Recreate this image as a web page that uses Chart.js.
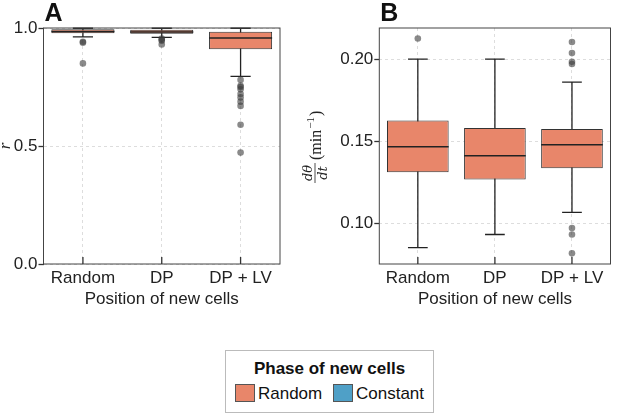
<!DOCTYPE html>
<html>
<head>
<meta charset="utf-8">
<script src="https://cdn.jsdelivr.net/npm/chart.js@4.4.0/dist/chart.umd.min.js"></script>
<style>
  body { margin: 0; background: #fff; font-family: "Liberation Sans", Arial, sans-serif; }
  #wrap { position: relative; width: 617px; height: 413px; }
  #chartA { position: absolute; left: 0; top: 0; }
  #chartB { position: absolute; left: 300px; top: 0; }
  #legend { position: absolute; left: 225px; top: 350px; width: 207px; height: 61px;
            border: 1px solid #bbb; text-align: center; color: #111; }
  #legend .title { font-weight: bold; font-size: 17px; margin-top: 8px; }
  #legend .items { margin-top: 5px; font-size: 17px; }
  #legend .sw { display: inline-block; width: 18px; height: 16px; border: 1px solid #555;
                vertical-align: -3px; margin-right: 3px; }
  #legend .item { margin: 0 3px; }
</style>
</head>
<body>
<div id="wrap">
  <canvas id="chartA" width="300" height="310"></canvas>
  <canvas id="chartB" width="317" height="310"></canvas>
  <div id="legend">
    <div class="title">Phase of new cells</div>
    <div class="items">
      <span class="item"><span class="sw" style="background:#E8866A"></span>Random</span>
      <span class="item"><span class="sw" style="background:#4FA0C7"></span>Constant</span>
    </div>
  </div>
</div>
<script>
var categories = ["Random", "DP", "DP + LV"];

// panel A: r
var rLow = [0.962, 0.960, 0.795];
var rQ1 = [0.978, 0.976, 0.910];
var rMed = [0.985, 0.983, 0.958];
var rQ3 = [0.995, 0.993, 0.984];
var rHigh = [0.999, 0.999, 0.999];
var rOut = [
    [0.942, 0.938, 0.85],
    [0.955, 0.950, 0.946, 0.93],
    [0.78, 0.755, 0.75, 0.74, 0.72, 0.706, 0.688, 0.67, 0.59, 0.472]
];
var rTicks = [0, 0.5, 1.0];

// panel B: dtheta/dt
var bLow = [0.085, 0.093, 0.1065];
var bQ1 = [0.131, 0.1265, 0.1335];
var bMed = [0.1465, 0.141, 0.1477];
var bQ3 = [0.1626, 0.158, 0.1573];
var bHigh = [0.200, 0.200, 0.186];
var bOut = [
    [0.2126],
    [],
    [0.2105, 0.2037, 0.1984, 0.197, 0.097, 0.093, 0.0815]
];
var bTicks = [0.10, 0.15, 0.20];

var boxColor = "#E8866A";
var lineColor = "#222";
var sans = "'Liberation Sans', Arial, sans-serif";

function panelPlugin(letter, low, med, high, drawYLabel) {
    return {
        id: "panel" + letter,
        beforeDatasetsDraw: function (chart) {
            // whiskers
            var ctx = chart.ctx, y = chart.scales.y;
            var bars = chart.getDatasetMeta(1).data;
            ctx.save();
            ctx.strokeStyle = lineColor;
            ctx.lineWidth = 1.3;
            bars.forEach(function (bar, i) {
                var half = bar.width * 0.16;
                var yl = y.getPixelForValue(low[i]), yh = y.getPixelForValue(high[i]);
                ctx.beginPath();
                ctx.moveTo(bar.x, yh); ctx.lineTo(bar.x, yl);
                ctx.moveTo(bar.x - half, yh); ctx.lineTo(bar.x + half, yh);
                ctx.moveTo(bar.x - half, yl); ctx.lineTo(bar.x + half, yl);
                ctx.stroke();
            });
            ctx.restore();
        },
        afterDatasetDraw: function (chart, args) {
            if (args.meta.type !== "bar") return;
            var ctx = chart.ctx, y = chart.scales.y;
            ctx.save();
            ctx.strokeStyle = lineColor;
            ctx.lineWidth = 1.5;
            args.meta.data.forEach(function (bar, i) {
                var ym = y.getPixelForValue(med[i]);
                ctx.beginPath();
                ctx.moveTo(bar.x - bar.width / 2, ym);
                ctx.lineTo(bar.x + bar.width / 2, ym);
                ctx.stroke();
            });
            ctx.restore();
        },
        afterDraw: function (chart) {
            var ctx = chart.ctx, a = chart.chartArea, x = chart.scales.x;
            ctx.save();
            // frame
            ctx.strokeStyle = "#444";
            ctx.lineWidth = 1;
            ctx.strokeRect(a.left, a.top, a.right - a.left, a.bottom - a.top);
            // inward x ticks
            ctx.strokeStyle = "#333";
            ctx.lineWidth = 1.3;
            for (var i = 0; i < categories.length; i++) {
                var px = x.getPixelForValue(i);
                ctx.beginPath();
                ctx.moveTo(px, a.bottom);
                ctx.lineTo(px, a.bottom - 7);
                ctx.stroke();
            }
            // panel letter
            ctx.fillStyle = "#111";
            ctx.font = "bold 25px " + sans;
            ctx.textAlign = "left";
            ctx.textBaseline = "alphabetic";
            ctx.fillText(letter, a.left + 1, 21);
            drawYLabel(ctx, a);
            ctx.restore();
        }
    };
}

function labelR(ctx, a) {
    ctx.translate(6, (a.top + a.bottom) / 2);
    ctx.rotate(-Math.PI / 2);
    ctx.font = "italic 17px 'Liberation Serif', serif";
    ctx.textAlign = "center";
    ctx.textBaseline = "middle";
    ctx.fillStyle = "#222";
    ctx.fillText("r", 0, 0);
}

function labelRate(ctx, a) {
    ctx.translate(15, (a.top + a.bottom) / 2 - 2);
    ctx.rotate(-Math.PI / 2);
    ctx.fillStyle = "#222";
    ctx.strokeStyle = "#222";
    ctx.textAlign = "center";
    ctx.font = "italic 13px 'DejaVu Serif', serif";
    var fx = -29;
    ctx.textBaseline = "alphabetic";
    ctx.fillText("d\u03b8", fx, -3);
    ctx.textBaseline = "top";
    ctx.fillText("dt", fx, 2);
    ctx.lineWidth = 0.8;
    ctx.beginPath();
    ctx.moveTo(fx - 10, 0); ctx.lineTo(fx + 10, 0);
    ctx.stroke();
    ctx.textAlign = "left";
    ctx.textBaseline = "middle";
    ctx.font = "16px 'Liberation Serif', serif";
    ctx.fillText("(min", -16, 2);
    var w = ctx.measureText("(min").width;
    ctx.font = "11px 'Liberation Serif', serif";
    ctx.fillText("\u22121", -16 + w + 1, -4);
    var w2 = ctx.measureText("\u22121").width;
    ctx.font = "16px 'Liberation Serif', serif";
    ctx.fillText(")", -16 + w + w2 + 2, 2);
}

function buildOutliers(out) {
    var pts = [];
    out.forEach(function (arr, i) {
        arr.forEach(function (v) { pts.push({ x: categories[i], y: v }); });
    });
    return pts;
}

function makeChart(id, q1, q3, out, ticks, yMin, yMax, digits, yWidth, padRight, plugin) {
    var ctx = document.getElementById(id).getContext("2d");
    return new Chart(ctx, {
        type: "bar",
        data: {
            labels: categories,
            datasets: [{
                type: "line",
                data: buildOutliers(out),
                showLine: false,
                pointRadius: 3.3,
                pointHoverRadius: 3.3,
                pointBackgroundColor: "rgba(60,60,60,0.6)",
                pointBorderWidth: 0,
                order: 1
            }, {
                type: "bar",
                data: q1.map(function (v, i) { return [v, q3[i]]; }),
                backgroundColor: boxColor,
                borderColor: "#333",
                borderWidth: 1,
                borderSkipped: false,
                barPercentage: 0.8,
                categoryPercentage: 1.0,
                order: 2
            }]
        },
        options: {
            responsive: false,
            animation: false,
            layout: { padding: { left: 0, right: padRight, top: 28, bottom: 0 } },
            scales: {
                x: {
                    offset: true,
                    grid: { offset: false, color: "#ddd", drawTicks: false },
                    border: { display: false, dash: [3, 3] },
                    ticks: { color: "#222", padding: 4, font: { size: 17, family: sans } },
                    title: {
                        display: true, text: "Position of new cells", color: "#222",
                        padding: 0, font: { size: 17, family: sans }
                    },
                    afterFit: function (s) { s.height = 46; }
                },
                y: {
                    min: yMin,
                    max: yMax,
                    grid: { color: "#ddd", tickColor: "#333", tickLength: 5, tickWidth: 1.3, tickBorderDash: [] },
                    border: { display: false, dash: [3, 3] },
                    ticks: {
                        color: "#222", padding: 1,
                        font: { size: 17, family: sans },
                        callback: function (v) { return Number(v).toFixed(digits); }
                    },
                    afterBuildTicks: function (s) {
                        s.ticks = ticks.map(function (v) { return { value: v }; });
                    },
                    afterFit: function (s) { s.width = yWidth; }
                }
            },
            plugins: {
                legend: { display: false },
                tooltip: { enabled: false }
            }
        },
        plugins: [plugin]
    });
}

makeChart("chartA", rQ1, rQ3, rOut, rTicks, 0, 1.0, 1, 43.5, 20,
    panelPlugin("A", rLow, rMed, rHigh, labelR));
makeChart("chartB", bQ1, bQ3, bOut, bTicks, 0.075, 0.219, 2, 79.3, 6.5,
    panelPlugin("B", bLow, bMed, bHigh, labelRate));
</script>
</body>
</html>
